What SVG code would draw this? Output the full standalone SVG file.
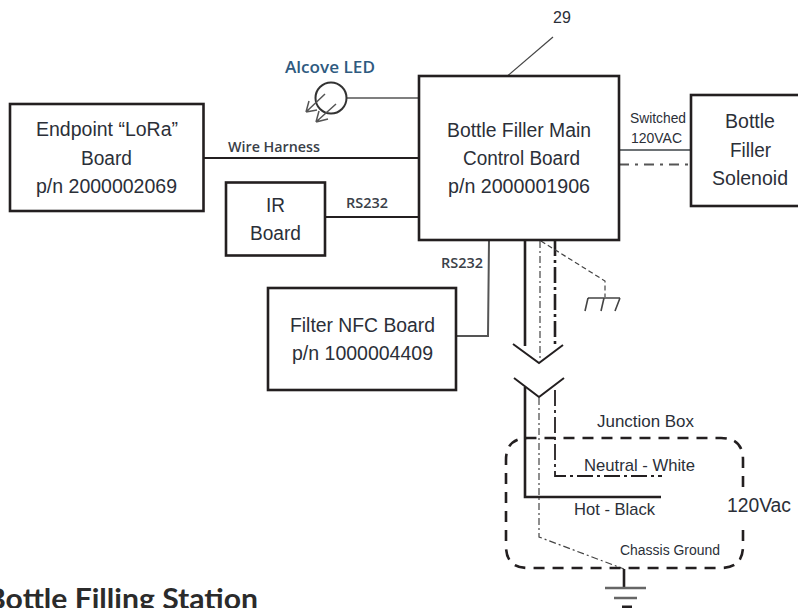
<svg xmlns="http://www.w3.org/2000/svg" width="798" height="608" viewBox="0 0 798 608">
<style>
.box{fill:#fff;stroke:#231f20;stroke-width:2.6}
.t{font-family:"Liberation Sans",Arial,sans-serif;fill:#2b2f38}
.b{font-size:20px}
.c{font-family:"Open Sans","Liberation Sans",sans-serif;font-size:14px;font-weight:600;fill:#3a4048}
.w{fill:none;stroke:#231f20;stroke-width:2}
.k{fill:none;stroke:#231f20;stroke-width:2.6}
.g{fill:none;stroke:#555;stroke-width:1.5}
.thin{fill:none;stroke:#444;stroke-width:1.2}
</style>
<g id="connectors">
<path class="w" d="M204 158H419"/>
<path class="w" d="M325 217H419"/>
<path class="g" style="stroke-width:1.6" d="M346 98H419"/>
<path class="g" style="stroke-width:2" d="M457 336H488L489 240"/>
<path class="g" style="stroke:#6d7275;stroke-width:2" d="M619 150H691"/>
<path class="g" style="stroke-width:1.8" stroke-dasharray="10 6 3 6" d="M619 164.500H691"/>
<path class="thin" d="M504 79L553 37"/>
<path class="k" d="M525 240V346"/>
<path class="k" stroke-dasharray="16 4 3 4" d="M555 240V346"/>
<path class="thin" stroke-dasharray="7 3 2 3" d="M540 241V361"/>
<path class="thin" stroke-dasharray="5 3" d="M541 241L605 281V297"/>
<path class="thin" style="stroke-width:1.6" d="M588 298H620M588 298L585 311M604 298L601 311M620 298L615 311"/>
<path class="w" d="M513 344L539 363L563 345"/>
<path class="w" d="M514 378L539 397L564 378"/>
<path class="k" d="M525 387V497H661"/>
<path class="g" style="stroke:#231f20;stroke-width:1.8" stroke-dasharray="16 4 3 4" d="M555 390V476H662"/>
<path class="thin" stroke-dasharray="7 3 2 3" d="M539 398V537L624 569"/>
<path class="k" d="M624 569V588"/>
<path fill="none" stroke="#666" stroke-width="2.400" d="M605 588H646M614 598H637"/>
<path fill="none" stroke="#231f20" stroke-width="3" d="M622 607H632"/>
</g>
<g id="alcove-led">
<circle cx="331" cy="98" r="15.500" fill="none" stroke="#333" stroke-width="2"/>
<path class="g" d="M325 94L306 112M306 112L317 110M306 112L309 101M336 104L316 122M316 122L328 119M316 122L319 111"/>
<text x="285" y="73" class="c" textLength="90" lengthAdjust="spacingAndGlyphs" style="font-size:15.500px;fill:#2e5a80">Alcove LED</text>
</g>
<g id="endpoint-board">
<rect class="box" x="10" y="104" width="193.500" height="107"/>
<text class="t b" x="36" y="136" textLength="142" lengthAdjust="spacingAndGlyphs">Endpoint “LoRa”</text>
<text class="t b" x="81" y="165" textLength="51" lengthAdjust="spacingAndGlyphs">Board</text>
<text class="t b" x="36" y="193" textLength="141" lengthAdjust="spacingAndGlyphs">p/n 2000002069</text>
</g>
<g id="ir-board">
<rect class="box" x="226" y="182.500" width="99" height="73"/>
<text class="t b" x="266" y="212" textLength="19" lengthAdjust="spacingAndGlyphs">IR</text>
<text class="t b" x="250" y="240" textLength="51" lengthAdjust="spacingAndGlyphs">Board</text>
</g>
<g id="nfc-board">
<rect class="box" x="268" y="288" width="188" height="102"/>
<text class="t b" x="290" y="332" textLength="145" lengthAdjust="spacingAndGlyphs">Filter NFC Board</text>
<text class="t b" x="292" y="360" textLength="141" lengthAdjust="spacingAndGlyphs">p/n 1000004409</text>
</g>
<g id="main-board">
<rect class="box" x="419" y="76" width="200" height="164"/>
<text class="t b" x="447" y="137" textLength="144" lengthAdjust="spacingAndGlyphs">Bottle Filler Main</text>
<text class="t b" x="463" y="165" textLength="117" lengthAdjust="spacingAndGlyphs">Control Board</text>
<text class="t b" x="448" y="193" textLength="142" lengthAdjust="spacingAndGlyphs">p/n 2000001906</text>
</g>
<g id="solenoid">
<rect class="box" x="691" y="95" width="120" height="111"/>
<text class="t b" x="725" y="128" textLength="50" lengthAdjust="spacingAndGlyphs">Bottle</text>
<text class="t b" x="730" y="157" textLength="41" lengthAdjust="spacingAndGlyphs">Filler</text>
<text class="t b" x="712" y="185" textLength="76" lengthAdjust="spacingAndGlyphs">Solenoid</text>
</g>
<g id="junction-box">
<path fill="none" stroke="#231f20" stroke-width="2.600" stroke-dasharray="11 8" d="M743 487V460Q743 438 721 438H528Q506 438 506 460V546Q506 568 528 568H721Q743 568 743 546V530"/>
</g>
<g id="labels">
<text class="t" style="font-size:16px" x="553" y="23">29</text>
<text class="c" x="228" y="152" textLength="92" lengthAdjust="spacingAndGlyphs">Wire Harness</text>
<text class="c" x="346" y="208" textLength="42" lengthAdjust="spacingAndGlyphs">RS232</text>
<text class="c" x="441" y="268" textLength="42" lengthAdjust="spacingAndGlyphs">RS232</text>
<text class="t" style="font-size:14px" x="630" y="123" textLength="56" lengthAdjust="spacingAndGlyphs">Switched</text>
<text class="t" style="font-size:14px" x="631" y="143" textLength="51" lengthAdjust="spacingAndGlyphs">120VAC</text>
<text class="t" style="font-size:17px" x="597" y="427" textLength="97" lengthAdjust="spacingAndGlyphs">Junction Box</text>
<text class="t" style="font-size:17px" x="584" y="471" textLength="111" lengthAdjust="spacingAndGlyphs">Neutral - White</text>
<text class="t" style="font-size:17px" x="574" y="515" textLength="81" lengthAdjust="spacingAndGlyphs">Hot - Black</text>
<text class="t" style="font-size:20px" x="727" y="512" textLength="64" lengthAdjust="spacingAndGlyphs">120Vac</text>
<text class="t" style="font-size:14px" x="620" y="555" textLength="100" lengthAdjust="spacingAndGlyphs">Chassis Ground</text>
<text x="-14" y="609" textLength="272" lengthAdjust="spacingAndGlyphs" style="font-family:'Lato','Open Sans',sans-serif;font-size:28px;font-weight:700;fill:#2b2b2b">Bottle Filling Station</text>
</g>
</svg>
